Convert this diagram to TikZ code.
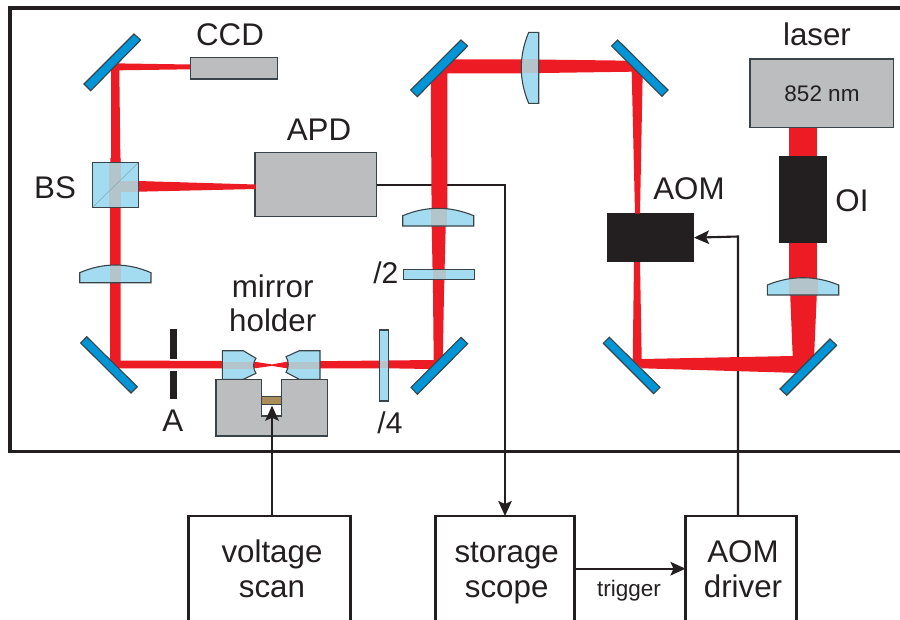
\documentclass[tikz,border=0pt]{standalone}
\usepackage{fontspec}
\setmainfont{Liberation Sans}
\usetikzlibrary{arrows.meta}
\definecolor{beamred}{HTML}{ED1C24}
\definecolor{glassblue}{HTML}{A3DCF0}
\definecolor{lapgray}{HTML}{B3C4CB}
\definecolor{mirrorblue}{HTML}{0095D6}
\definecolor{blockgray}{HTML}{BBBDBF}
\definecolor{inkblack}{HTML}{231F20}
\definecolor{edgegray}{HTML}{3A4448}
\definecolor{brassbrown}{HTML}{A98C58}
\tikzset{
  beam/.style={fill=beamred,draw=none},
  glass/.style={fill=glassblue,draw=edgegray,line width=1.1pt,line join=miter},
  lap/.style={fill=lapgray,draw=none},
  mirrorplate/.style={fill=mirrorblue,draw=edgegray,line width=1.1pt},
  grayblock/.style={fill=blockgray,draw=edgegray,line width=1.3pt,inner sep=0pt,outer sep=0pt},
  blackblock/.style={fill=inkblack,draw=none,inner sep=0pt,outer sep=0pt},
  ctrlbox/.style={fill=white,draw=inkblack,line width=2.2pt,inner sep=0pt,outer sep=0pt},
  frameline/.style={draw=inkblack,line width=3.6pt},
  wire/.style={draw=inkblack,line width=2.1pt},
  wirearrow/.style={wire,-{Stealth[length=15pt,width=13.5pt,inset=3pt]}},
  lbl/.style={text=inkblack,inner sep=0pt,outer sep=0pt,anchor=base,font=\fontsize{31.3}{31.3}\selectfont},
  smalllbl/.style={lbl,font=\fontsize{22.5}{22.5}\selectfont},
  halflbl/.style={lbl,font=\fontsize{30}{30}\selectfont},
}
\newcommand{\lensup}[7]{%
  \pgfmathsetmacro\lensctrl{#4-(#4-#5)*4/3}%
  \draw[glass,path picture={\fill[lap] (#6,#5-5) rectangle (#7,#3+5);}]
    (#1,#3) -- (#1,#4) .. controls ({#1+(#2-#1)/3},\lensctrl) and ({#2-(#2-#1)/3},\lensctrl) .. (#2,#4) -- (#2,#3) -- cycle;}
\begin{document}
\begin{tikzpicture}[x=1pt,y=-1pt]
\useasboundingbox (0,0) rectangle (900,619);
\clip (0,0) rectangle (900,619);
% frame
\draw[frameline] (10,8) rectangle (910,451.5);
% blocks that carry wires
\node[grayblock,minimum width=121.7pt,minimum height=64pt] (apd) at (315.85,184.7) {};
\node[ctrlbox,minimum width=162pt,minimum height=144pt] (voltage) at (269.4,588) {};
\node[ctrlbox,minimum width=139pt,minimum height=144pt] (scope) at (505,588) {};
\node[ctrlbox,minimum width=111pt,minimum height=144pt] (driver) at (741,588) {};
\node[blackblock,minimum width=87.3pt,minimum height=48.7pt] (aom) at (650.35,237.65) {};
\coordinate (drvfoot) at (738,516);
\coordinate (drvcorner) at (738,236.5);
\coordinate (vfoot) at (272,516);
\coordinate (vtip) at (272,405.7);
% wires under the beams
\draw[wirearrow] (apd.east) -| (scope.north);
\draw[wirearrow] (drvfoot) -- (drvcorner) -- (aom.east);
\draw[wirearrow] ([yshift=19.3pt]scope.east) -- ([yshift=19.3pt]driver.west);
% beams
\fill[beam] (111,170) -- (111,63) -- (125,63.5) -- (190.7,64.5) -- (190.7,69.3) -- (119.3,70.3) -- (120.5,170) -- cycle;
\fill[beam] (110.5,158) -- (120.5,158) -- (120.7,200) -- (110,200) -- cycle;
\fill[beam] (138,181) -- (255.5,184.5) -- (255.5,189) -- (138,191.7) -- cycle;
\fill[beam] (110,200) -- (120.7,200) -- (120.7,360.5) -- (222,361) -- (253,361.5) -- (272,364.4) -- (288,361.5) -- (433.7,360) -- (433,293) -- (431.7,226) -- (430.7,75) -- (447,59.3) -- (521,59.3) -- (631,60.7) -- (642.7,72) -- (640,213.5) -- (635,213.5) -- (631.7,71.7) -- (521,73.3) -- (447.3,73.3) -- (447.3,208) -- (445.7,226) -- (444,293) -- (442.7,362) -- (430,369) -- (388,368.3) -- (288,368.5) -- (272,365.9) -- (253,368.5) -- (116,368.3) -- (110,362) -- cycle;
\fill[beam] (634,262) -- (640,262) -- (641.7,359) -- (792.7,356) -- (790,290) -- (817,290) -- (814,358) -- (800,373) -- (642,368.3) -- (632.7,361) -- cycle;
\fill[beam] (789.2,125) rectangle (817,290);
% gray instruments
\node[grayblock,minimum width=86.6pt,minimum height=21.7pt] (ccd) at (234,68.15) {};
\node[grayblock,minimum width=143.7pt,minimum height=68.7pt] (laser) at (821.85,93.35) {};
\node[blackblock,minimum width=48pt,minimum height=87.3pt] (oi) at (803,199.65) {};
% mirrors
\draw[mirrorplate] (84,84) -- (90.7,90.7) -- (140.7,40) -- (134,34) -- cycle;
\draw[mirrorplate] (80.7,343) -- (86.7,336.7) -- (137.3,386.7) -- (131,393) -- cycle;
\draw[mirrorplate] (410.7,90) -- (417.3,96.7) -- (467.7,46) -- (461,40) -- cycle;
\draw[mirrorplate] (611.7,46) -- (617.7,40) -- (668,90) -- (662,96.3) -- cycle;
\draw[mirrorplate] (411,387.3) -- (417.3,394.3) -- (467.7,343.7) -- (461,337.3) -- cycle;
\draw[mirrorplate] (603.3,343.3) -- (609.3,337.3) -- (660,387.3) -- (653.7,393.7) -- cycle;
\draw[mirrorplate] (780,389) -- (786.7,395.3) -- (836.7,345.3) -- (830,339) -- cycle;
% lenses
\lensup{79.7}{151}{282.7}{272.7}{265}{110}{121}
\lensup{402.7}{473.7}{226}{215.7}{208.3}{430.7}{447.3}
\lensup{767.3}{838.7}{295}{285}{277.7}{789.3}{818}
\draw[glass,path picture={\fill[lap] (515,59.3) rectangle (545,73.3);}]
  (538.7,32.3) -- (528.7,32.3) .. controls (518.8,56) and (518.8,80) .. (528.7,103.3) -- (538.7,103.3) -- cycle;
% beam splitter
\draw[glass,path picture={\fill[lap] (109.3,160) rectangle (120.7,210); \fill[lap] (109.3,181) rectangle (140,191.7);}]
  (92.7,162.7) rectangle (138.3,207.3);
\draw[edgegray!35!glassblue,line width=.5pt] (93,207) -- (138,163);
% wave plates
\draw[glass,path picture={\fill[lap] (432.5,265) rectangle (445.5,285);}] (403.3,269.3) rectangle (474.7,279.3);
\draw[glass,path picture={\fill[lap] (375,361) rectangle (392,368.3);}] (379.3,330) rectangle (388.7,401);
% aperture
\fill[inkblack] (170,329) rectangle (176.7,359);
\fill[inkblack] (170,370.7) rectangle (176.7,399.3);
% mirror holder
\draw[grayblock] (216,379.3) -- (261.7,379.3) -- (261.7,416) -- (281.7,416) -- (281.7,379.3) -- (327.3,379.3) -- (327.3,436) -- (216,436) -- cycle;
\draw[fill=brassbrown,draw=edgegray,line width=1pt] (261.7,396) rectangle (281.7,404);
\draw[glass,path picture={\fill[lap] (222,361.5) rectangle (253.5,368.5);}]
  (222.3,350.7) -- (243.3,350.7) -- (256,358.3) .. controls (252.8,362) and (252.8,369) .. (256,373.3) -- (243.3,379.3) -- (222.3,379.3) -- cycle;
\draw[glass,path picture={\fill[lap] (288,361.5) rectangle (320,368.5);}]
  (320,350.7) -- (299.3,350.7) -- (286,356.7) .. controls (289,361) and (289,368) .. (286,372.3) -- (299.3,379.3) -- (320,379.3) -- cycle;
\draw[wirearrow] (vfoot) -- (vtip);
% labels
\node[lbl] (lccd) at (230,45) {CCD};
\node[lbl] (lapd) at (319,140) {APD};
\node[lbl] (lbs) at (55,198) {BS};
\node[lbl] (lmirror) at (272.7,297.5) {mirror};
\node[lbl] (lholder) at (272.7,331.5) {holder};
\node[lbl] (la) at (172.7,431.7) {A};
\node[halflbl] (lhalf) at (385.8,283.5) {/2};
\node[halflbl] (lquarter) at (390,433.3) {/4};
\node[lbl] (laom) at (689,199) {AOM};
\node[lbl] (llaser) at (817,45) {laser};
\node[smalllbl] (lnm) at (822,101.7) {852 nm};
\node[lbl] (loi) at (852,211.7) {OI};
\node[lbl] (lvolt) at (272,562) {voltage};
\node[lbl] (lscan) at (272,597) {scan};
\node[lbl] (lstor) at (506.7,562) {storage};
\node[lbl] (lscope) at (506.7,597) {scope};
\node[lbl] (laomd) at (743,562) {AOM};
\node[lbl] (ldriver) at (743,597) {driver};
\node[smalllbl] (ltrig) at (629,596) {trigger};
\end{tikzpicture}
\end{document}
